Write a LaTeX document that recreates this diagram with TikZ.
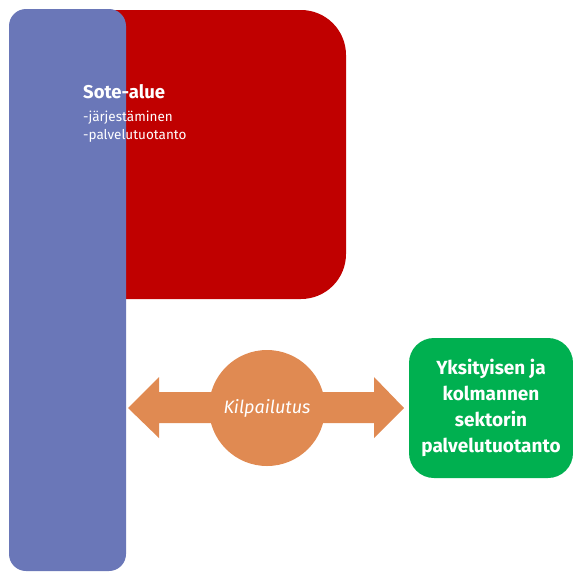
\documentclass[tikz,border=0pt]{standalone}
\usepackage{fontspec}
\setmainfont{Fira Sans}
\definecolor{soteblue}{HTML}{6A77B8}
\definecolor{sotered}{HTML}{C00000}
\definecolor{bidorange}{HTML}{E08A52}
\definecolor{privgreen}{HTML}{00B050}
\begin{document}
\begin{tikzpicture}[x=1pt,y=-1pt,
  lbl/.style={text=white,inner sep=0pt}]
\useasboundingbox (0,0) rectangle (573,571);
% organiser area and its own production
\fill[sotered,rounded corners=45pt] (40,10) rectangle (346,299);
\fill[soteblue,rounded corners=17pt] (9,9) rectangle (126,571);
\node[lbl,anchor=north west,align=left,font=\fontsize{13.5}{18.5}\selectfont] (sote) at (83,84)
  {{\fontsize{18.5}{18}\selectfont\bfseries Sote-alue}\\[4.5pt]-järjestäminen\\-palvelutuotanto};
% competitive tendering: two-way arrow with a disc in the middle
\coordinate (lt) at (128,408);
\coordinate (rt) at (404,408);
\fill[bidorange] (lt) -- (159,377) -- (159,392) -- (374,392) -- (374,377) -- (rt)
  -- (374,438) -- (374,423) -- (159,423) -- (159,438) -- cycle;
\node[circle,fill=bidorange,minimum size=116pt,inner sep=0pt] (bid) at (267,408) {};
\node[lbl,font=\fontsize{18}{18}\selectfont\itshape] at (bid) {Kilpailutus};
% private and third sector production
\node[fill=privgreen,rounded corners=25pt,minimum width=164pt,minimum height=140pt,
  text=white,align=center,font=\fontsize{19}{26}\selectfont\bfseries] (priv) at (491,408)
  {Yksityisen ja\\kolmannen\\sektorin\\palvelutuotanto};
\end{tikzpicture}
\end{document}
